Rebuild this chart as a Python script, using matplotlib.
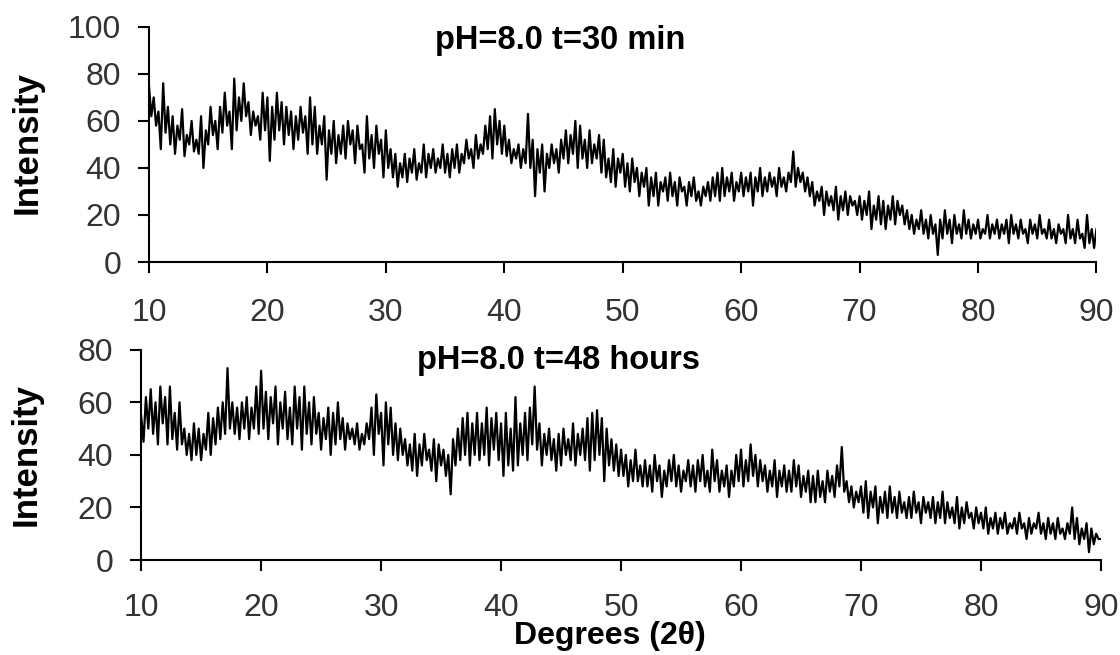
import numpy as np
import matplotlib
matplotlib.use("Agg")
import matplotlib.pyplot as plt

# diffraction angle, 0.2 degree step
two_theta = np.linspace(10, 90, 401)

# pH=8.0, t=30 min
intensity_30min = [
    75, 62, 70, 58, 64, 48, 76, 55, 66, 50,
    62, 46, 58, 52, 65, 45, 54, 50, 60, 47,
    52, 46, 62, 40, 56, 50, 66, 54, 60, 48,
    66, 55, 72, 58, 64, 48, 78, 56, 70, 60,
    76, 62, 68, 54, 64, 58, 62, 52, 72, 56,
    70, 43, 66, 52, 72, 56, 68, 50, 66, 54,
    64, 48, 62, 52, 66, 55, 62, 46, 70, 50,
    66, 46, 58, 50, 62, 35, 56, 46, 60, 42,
    54, 46, 58, 44, 60, 50, 56, 42, 58, 48,
    50, 38, 62, 44, 54, 40, 58, 46, 52, 36,
    56, 40, 48, 36, 46, 32, 42, 36, 46, 34,
    44, 38, 48, 35, 42, 38, 50, 36, 46, 40,
    48, 38, 44, 40, 50, 38, 46, 36, 48, 40,
    50, 38, 46, 42, 52, 44, 48, 40, 54, 44,
    50, 46, 58, 48, 62, 44, 65, 50, 60, 46,
    58, 45, 52, 42, 48, 44, 50, 40, 48, 42,
    63, 40, 52, 28, 48, 38, 50, 30, 46, 40,
    50, 42, 48, 38, 52, 44, 56, 42, 54, 46,
    60, 40, 58, 44, 52, 40, 56, 42, 50, 44,
    54, 38, 52, 36, 44, 34, 48, 32, 44, 38,
    46, 32, 42, 30, 44, 34, 40, 28, 38, 32,
    40, 24, 36, 28, 38, 24, 34, 30, 36, 26,
    38, 28, 34, 24, 36, 30, 32, 24, 34, 28,
    36, 26, 30, 24, 32, 28, 34, 26, 36, 28,
    38, 26, 40, 28, 36, 30, 38, 26, 34, 30,
    38, 28, 36, 30, 38, 24, 36, 30, 40, 28,
    36, 30, 38, 32, 36, 28, 40, 32, 36, 30,
    38, 34, 47, 32, 40, 34, 38, 30, 36, 28,
    34, 24, 30, 26, 32, 20, 30, 24, 28, 22,
    32, 18, 28, 22, 30, 20, 28, 24, 26, 20,
    28, 18, 26, 20, 30, 14, 24, 18, 28, 16,
    26, 14, 24, 18, 28, 16, 26, 20, 24, 16,
    22, 14, 20, 12, 18, 14, 22, 12, 18, 10,
    20, 12, 16, 3, 18, 10, 22, 12, 18, 8,
    20, 12, 16, 10, 22, 12, 18, 10, 16, 12,
    18, 10, 14, 12, 20, 10, 16, 12, 18, 10,
    16, 12, 18, 8, 20, 12, 16, 10, 18, 12,
    14, 8, 18, 12, 16, 10, 20, 12, 14, 10,
    18, 10, 14, 8, 16, 12, 14, 8, 20, 10,
    14, 8, 18, 10, 12, 6, 20, 8, 14, 6,
    14,
]

# pH=8.0, t=48 hours
intensity_48h = [
    55, 45, 62, 50, 65, 48, 60, 44, 66, 52,
    62, 44, 66, 46, 56, 42, 60, 44, 50, 40,
    48, 38, 52, 40, 50, 38, 48, 42, 56, 40,
    54, 44, 58, 46, 60, 48, 73, 50, 60, 48,
    58, 46, 60, 50, 62, 46, 58, 50, 66, 48,
    72, 50, 64, 46, 62, 52, 66, 44, 60, 50,
    64, 46, 58, 44, 66, 50, 62, 42, 66, 48,
    60, 44, 62, 48, 56, 42, 54, 46, 58, 40,
    56, 44, 60, 46, 54, 42, 52, 46, 50, 44,
    52, 42, 48, 44, 52, 46, 58, 40, 63, 48,
    56, 36, 60, 44, 58, 40, 52, 38, 50, 40,
    46, 36, 44, 34, 48, 32, 44, 36, 48, 38,
    42, 34, 46, 30, 44, 36, 42, 32, 40, 25,
    46, 36, 50, 38, 54, 40, 56, 36, 52, 40,
    56, 38, 52, 40, 58, 36, 54, 42, 56, 38,
    52, 32, 56, 36, 50, 34, 62, 36, 52, 40,
    56, 38, 58, 44, 66, 42, 52, 36, 48, 40,
    50, 38, 46, 34, 48, 36, 50, 40, 46, 38,
    52, 36, 48, 40, 50, 38, 54, 34, 56, 38,
    57, 40, 54, 30, 50, 36, 46, 34, 44, 32,
    42, 32, 40, 28, 38, 30, 42, 30, 36, 28,
    38, 28, 36, 26, 40, 30, 36, 24, 34, 28,
    38, 30, 40, 28, 36, 26, 34, 30, 38, 28,
    36, 26, 38, 30, 40, 28, 34, 26, 42, 30,
    38, 26, 34, 28, 36, 24, 34, 28, 40, 30,
    42, 28, 38, 30, 44, 32, 40, 28, 38, 30,
    36, 26, 34, 28, 38, 24, 34, 28, 36, 26,
    34, 26, 38, 28, 36, 24, 32, 26, 34, 22,
    32, 22, 34, 24, 30, 22, 34, 26, 32, 24,
    36, 28, 43, 26, 30, 22, 28, 20, 26, 22,
    28, 18, 30, 16, 26, 20, 28, 14, 24, 18,
    26, 16, 28, 18, 24, 16, 26, 18, 22, 16,
    24, 16, 26, 18, 22, 14, 24, 18, 22, 16,
    24, 14, 22, 16, 26, 14, 22, 16, 20, 14,
    24, 12, 20, 14, 22, 16, 18, 12, 20, 14,
    18, 12, 20, 10, 16, 12, 18, 10, 16, 12,
    18, 10, 14, 12, 16, 10, 18, 12, 14, 8,
    16, 10, 14, 12, 18, 10, 14, 8, 16, 10,
    14, 8, 16, 10, 12, 8, 14, 10, 20, 8,
    16, 6, 12, 8, 14, 3, 12, 6, 10, 8,
    8,
]

x_ticks = [10, 20, 30, 40, 50, 60, 70, 80, 90]
y_ticks_top = [0, 20, 40, 60, 80, 100]
y_ticks_bottom = [0, 20, 40, 60, 80]

plt.rcParams['font.family'] = ['Liberation Sans', 'DejaVu Sans']

fig = plt.figure(figsize=(11.2, 6.55), dpi=100)
ax1 = fig.add_axes([0.133, 0.600, 0.846, 0.359])
ax2 = fig.add_axes([0.126, 0.145, 0.857, 0.321])


def style_axis(ax, y_ticks):
    for side in ['top', 'right']:
        ax.spines[side].set_visible(False)
    for side in ['left', 'bottom']:
        ax.spines[side].set_linewidth(1.5)
    ax.set_xlim(10, 90)
    ax.set_ylim(y_ticks[0], y_ticks[-1])
    ax.set_xticks(x_ticks)
    ax.set_yticks(y_ticks)
    ax.tick_params(axis='x', direction='out', length=8, width=1.5, pad=18,
                   labelsize=23, labelcolor='#333333')
    ax.tick_params(axis='y', direction='out', length=8, width=1.5, pad=12,
                   labelsize=23, labelcolor='#333333')


ax1.plot(two_theta, intensity_30min, color='black', linewidth=1.6)
style_axis(ax1, y_ticks_top)
ax1.text(44.7, 94, 'pH=8.0 t=30 min', fontsize=23.5, fontweight='bold', ha='center', va='center')

ax2.plot(two_theta, intensity_48h, color='black', linewidth=1.6)
style_axis(ax2, y_ticks_bottom)
ax2.tick_params(axis='x', pad=16)
ax2.text(44.75, 76, 'pH=8.0 t=48 hours', fontsize=23.5, fontweight='bold', ha='center', va='center')

# axis titles placed in figure coordinates
fig.text(27 / 1120, 1 - 143 / 655, 'Intensity', rotation=90, fontsize=25,
         fontweight='bold', ha='center', va='center')
fig.text(26 / 1120, 1 - 455 / 655, 'Intensity', rotation=90, fontsize=25,
         fontweight='bold', ha='center', va='center')
fig.text(610 / 1120, 1 - 636 / 655, 'Degrees (2θ)', fontsize=23,
         fontweight='bold', ha='center', va='center')

fig.savefig('out.png', dpi=100)
